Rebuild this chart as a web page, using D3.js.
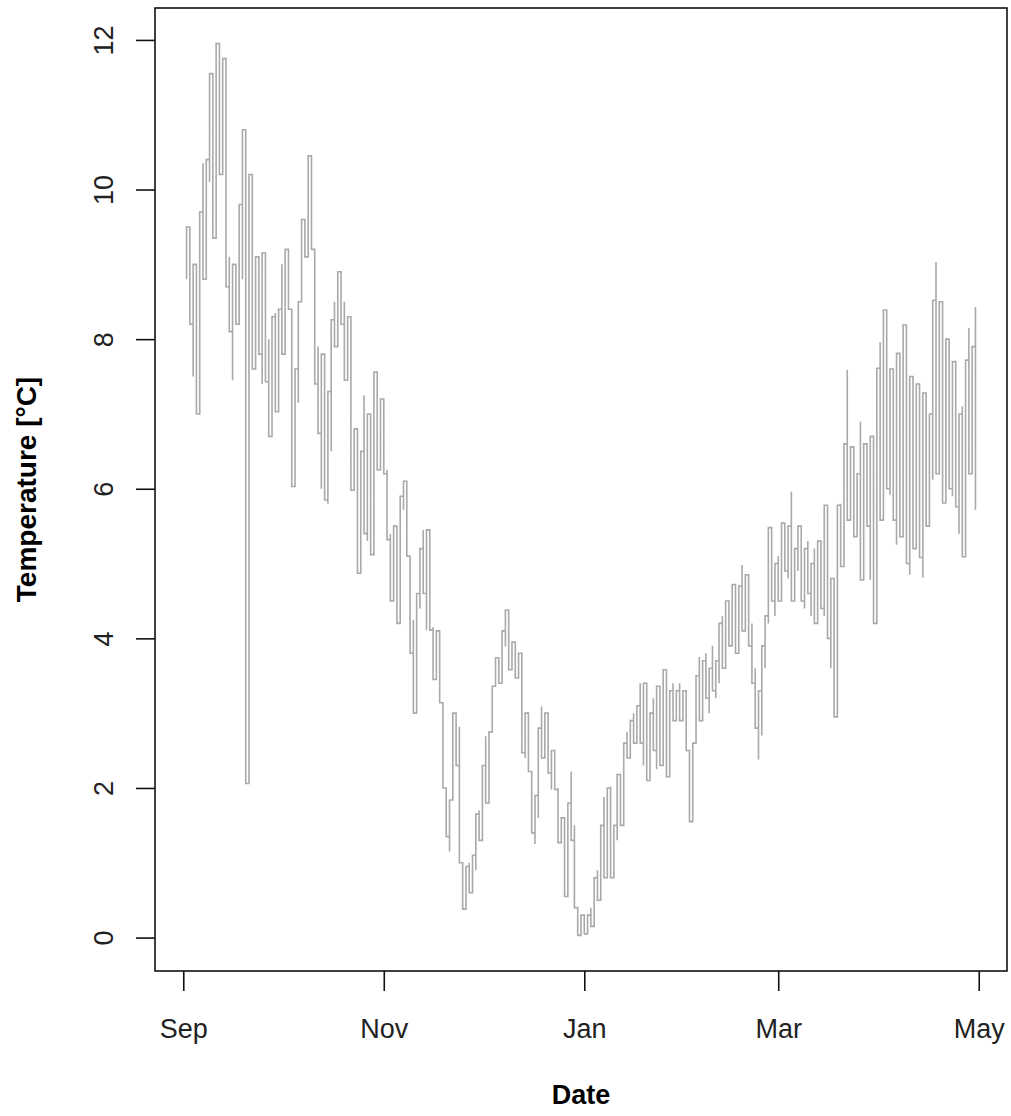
<!DOCTYPE html>
<html>
<head>
<meta charset="utf-8">
<script src="https://cdn.jsdelivr.net/npm/d3@7"></script>
<style>
  body { margin: 0; background: #fff; }
  svg { display: block; font-family: "Liberation Sans", Arial, sans-serif; }
</style>
</head>
<body>
<svg id="chart" width="1011" height="1116"></svg>
<script>
// daily readings, first day 2018-09-02, one entry per day
const startDay = "2018-09-02";

const dayLow = [
  8.8, 8.2, 7.5, 7.0, 8.2, 8.8, 9.4, 10.1, 9.35, 9.7,
  10.2, 10.2, 8.7, 8.1, 7.45, 8.2, 9.0, 8.8, 2.06, 8.5,
  7.6, 7.7, 7.8, 7.4, 7.43, 6.7, 6.7, 7.03, 7.6, 7.8,
  8.3, 8.4, 6.03, 6.03, 7.15, 8.5, 9.1, 9.2, 9.2, 7.4,
  6.74, 6.0, 5.85, 5.8, 6.5, 7.9, 8.3, 8.2, 7.45, 7.5,
  5.98, 5.98, 4.87, 5.4, 5.4, 5.3, 5.12, 6.2, 6.25, 6.6,
  6.2, 5.32, 4.5, 4.8, 4.2, 4.6, 5.72, 5.1, 3.8, 3.0,
  3.94, 4.4, 4.6, 4.11, 4.11, 3.45, 3.45, 3.14, 2.0, 1.35,
  1.15, 1.84, 2.3, 1.0, 0.38, 0.5, 0.6, 0.7, 0.9, 1.3,
  1.62, 1.8, 2.29, 2.75, 3.36, 3.4, 3.74, 3.89, 3.58, 3.6,
  3.47, 3.47, 2.47, 2.4, 2.22, 1.4, 1.25, 1.6, 2.4, 2.7,
  2.2, 1.98, 1.98, 1.27, 1.27, 0.55, 1.2, 1.3, 0.4, 0.03,
  0.05, 0.05, 0.1, 0.15, 0.3, 0.5, 0.5, 0.8, 1.54, 0.8,
  0.85, 1.3, 1.5, 2.18, 2.4, 2.6, 2.6, 2.8, 2.6, 2.3,
  2.1, 2.34, 2.5, 2.25, 2.3, 2.5, 2.15, 2.6, 2.9, 2.9,
  2.9, 3.0, 2.5, 1.55, 1.8, 2.6, 2.9, 3.0, 3.2, 3.0,
  3.3, 3.2, 3.4, 3.6, 3.8, 3.9, 4.0, 3.8, 4.2, 4.1,
  4.3, 3.9, 3.4, 2.8, 2.38, 2.7, 3.6, 4.2, 4.5, 4.3,
  4.5, 4.78, 4.9, 4.8, 4.5, 4.7, 4.9, 4.5, 4.4, 4.6,
  4.3, 4.2, 4.5, 4.4, 4.3, 4.0, 3.6, 2.95, 4.5, 4.96,
  5.5, 5.58, 5.8, 5.36, 5.5, 4.78, 5.4, 5.5, 4.78, 4.2,
  5.36, 5.58, 6.16, 6.0, 5.92, 5.58, 5.25, 5.36, 6.05, 5.0,
  4.85, 5.2, 6.1, 5.08, 4.81, 5.5, 6.3, 6.12, 6.2, 6.39,
  5.81, 6.5, 6.0, 5.9, 5.76, 5.4, 5.09, 6.3, 6.2, 6.83,
  5.72
];

const dayHigh = [
  9.5, 9.0, 9.0, 9.0, 9.7, 10.35, 10.4, 11.55, 10.9, 11.95,
  11.95, 11.75, 10.2, 9.1, 9.0, 8.8, 9.8, 10.8, 10.57, 10.2,
  8.9, 9.1, 8.8, 9.15, 8.6, 8.0, 8.3, 8.35, 8.4, 9.0,
  9.2, 8.9, 7.35, 7.6, 8.5, 9.6, 9.6, 10.45, 10.45, 9.2,
  7.9, 7.8, 6.6, 7.3, 8.26, 8.5, 8.9, 8.75, 8.5, 8.3,
  7.5, 6.8, 6.0, 6.5, 7.25, 7.0, 6.2, 7.56, 7.5, 7.2,
  6.9, 6.25, 5.4, 5.5, 5.3, 5.9, 6.1, 5.8, 5.1, 4.25,
  4.6, 5.2, 5.45, 5.45, 5.3, 4.15, 4.1, 3.6, 3.14, 2.0,
  1.84, 3.0, 3.0, 2.82, 1.0, 0.95, 1.0, 1.1, 1.65, 1.7,
  2.3, 2.69, 2.75, 3.36, 3.74, 3.74, 4.1, 4.38, 4.1, 3.95,
  3.9, 3.8, 3.5, 3.0, 2.74, 2.22, 1.9, 2.8, 3.09, 3.0,
  2.95, 2.5, 2.2, 2.0, 1.6, 1.3, 1.8, 2.22, 1.5, 0.4,
  0.3, 0.3, 0.3, 0.4, 0.8, 0.9, 1.5, 1.88, 2.0, 2.02,
  1.5, 2.18, 2.18, 2.6, 2.75, 2.9, 3.0, 3.1, 3.4, 3.4,
  3.1, 3.0, 3.2, 3.36, 3.1, 3.58, 3.4, 3.3, 3.4, 3.3,
  3.4, 3.3, 3.0, 2.5, 2.6, 3.5, 3.75, 3.7, 3.8, 3.6,
  3.9, 3.7, 4.2, 4.3, 4.5, 4.4, 4.72, 4.6, 4.7, 4.98,
  4.85, 4.6, 4.2, 3.6, 3.3, 3.9, 4.3, 5.48, 5.2, 5.0,
  5.1, 5.54, 5.4, 5.5, 5.96, 5.2, 5.5, 5.3, 5.2, 5.3,
  5.0, 5.2, 5.3, 5.0, 5.78, 5.0, 4.8, 4.5, 5.78, 5.8,
  6.6, 7.59, 6.56, 6.3, 6.2, 6.9, 6.6, 6.4, 6.7, 6.6,
  7.61, 7.96, 8.39, 7.7, 7.6, 6.8, 7.81, 7.6, 8.19, 7.4,
  7.5, 7.2, 7.4, 6.9, 7.28, 7.1, 7.0, 8.52, 9.03, 8.5,
  8.1, 8.0, 7.1, 7.7, 6.8, 7.0, 7.1, 7.72, 8.15, 7.9,
  8.43
];

const yTicks = [0, 2, 4, 6, 8, 10, 12];
const xTickDates = ["2018-09-01", "2018-11-01", "2019-01-01", "2019-03-01", "2019-05-01"];
const xTickLabels = ["Sep", "Nov", "Jan", "Mar", "May"];

const parse = d3.timeParse("%Y-%m-%d");
const first = parse(startDay);
const days = dayLow.map((_, i) => d3.timeDay.offset(first, i));

// build the reading sequence: each day goes low->high or high->low,
// whichever starts closer to where the previous day ended
const readings = [];
let last = null;
days.forEach((d, i) => {
  const lo = dayLow[i], hi = dayHigh[i];
  const pair = (last === null || Math.abs(last - lo) <= Math.abs(last - hi)) ? [lo, hi] : [hi, lo];
  readings.push({ date: d, value: pair[0] });
  readings.push({ date: d, value: pair[1] });
  last = pair[1];
});

const plot = { left: 155, right: 1007, top: 8, bottom: 971 };
const svg = d3.select("#chart");

// R style 4% padding around the data range
const xExt = d3.extent(days, d => +d);
const xPad = (xExt[1] - xExt[0]) * 0.04;
const x = d3.scaleTime()
  .domain([new Date(xExt[0] - xPad), new Date(xExt[1] + xPad)])
  .range([plot.left, plot.right]);

const yMin = d3.min(dayLow), yMax = d3.max(dayHigh);
const yPad = (yMax - yMin) * 0.04;
const y = d3.scaleLinear()
  .domain([yMin - yPad, yMax + yPad])
  .range([plot.bottom, plot.top]);

const line = d3.line()
  .x(d => x(d.date))
  .y(d => y(d.value))
  .curve(d3.curveStepAfter);

svg.append("path")
  .datum(readings)
  .attr("fill", "none")
  .attr("stroke", "#a9a9a9")
  .attr("stroke-width", 1.6)
  .attr("d", line);

// box
svg.append("rect")
  .attr("x", plot.left)
  .attr("y", plot.top)
  .attr("width", plot.right - plot.left)
  .attr("height", plot.bottom - plot.top)
  .attr("fill", "none")
  .attr("stroke", "#111")
  .attr("stroke-width", 1.6);

// x axis
const xAxis = d3.axisBottom(x)
  .tickValues(xTickDates.map(parse))
  .tickFormat((d, i) => xTickLabels[i])
  .tickSize(20);

const gx = svg.append("g")
  .attr("transform", `translate(0,${plot.bottom})`)
  .call(xAxis);
gx.select(".domain").remove();
gx.selectAll(".tick line").attr("stroke", "#111").attr("stroke-width", 1.6);
gx.selectAll(".tick text")
  .attr("y", 67)
  .attr("dy", null)
  .attr("fill", "#222")
  .style("font-size", "27px");

// y axis, labels turned like R's las = 0
const yAxis = d3.axisLeft(y)
  .tickValues(yTicks)
  .tickFormat(d3.format("d"))
  .tickSize(19);

const gy = svg.append("g")
  .attr("transform", `translate(${plot.left},0)`)
  .call(yAxis);
gy.select(".domain").remove();
gy.selectAll(".tick line").attr("stroke", "#111").attr("stroke-width", 1.6);
gy.selectAll(".tick text")
  .attr("transform", "rotate(-90)")
  .attr("x", 0)
  .attr("y", -42)
  .attr("dy", null)
  .attr("text-anchor", "middle")
  .attr("fill", "#222")
  .style("font-size", "27px");

// axis titles
svg.append("text")
  .attr("x", (plot.left + plot.right) / 2)
  .attr("y", 1104)
  .attr("text-anchor", "middle")
  .style("font-size", "27px")
  .style("font-weight", "bold")
  .text("Date");

const yMid = (plot.top + plot.bottom) / 2;
svg.append("text")
  .attr("transform", `translate(36,${yMid}) rotate(-90)`)
  .attr("text-anchor", "middle")
  .style("font-size", "28px")
  .style("font-weight", "bold")
  .text("Temperature [°C]");
</script>
</body>
</html>
